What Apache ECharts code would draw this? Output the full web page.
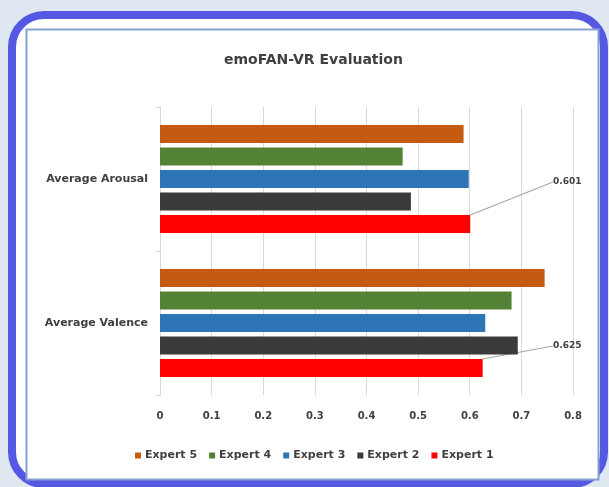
<!DOCTYPE html>
<html>
<head>
<meta charset="utf-8">
<script src="https://cdn.jsdelivr.net/npm/echarts@6/dist/echarts.min.js"></script>
<style>
html,body{margin:0;padding:0;background:#dfe7f1;}
#c{width:609px;height:487px;}
</style>
</head>
<body>
<div id="c"></div>
<script>
const categories = ['Average Arousal', 'Average Valence'];
const seriesNames = ['Expert 1', 'Expert 2', 'Expert 3', 'Expert 4', 'Expert 5'];
const expert1 = [0.601, 0.625];
const expert2 = [0.486, 0.693];
const expert3 = [0.598, 0.630];
const expert4 = [0.470, 0.681];
const expert5 = [0.588, 0.745];
const xTicks = [0, 0.1, 0.2, 0.3, 0.4, 0.5, 0.6, 0.7, 0.8];
const colors = ['#ff0000', '#3a3a3a', '#2e75b6', '#548235', '#c55a11'];
const legendOrder = ['Expert 5', 'Expert 4', 'Expert 3', 'Expert 2', 'Expert 1'];
const values = [expert1, expert2, expert3, expert4, expert5];

const FONT = '"DejaVu Sans", "Liberation Sans", sans-serif';
const chart = echarts.init(document.getElementById('c'), null, {renderer: 'canvas'});

const series = [];
for (let i = seriesNames.length - 1; i >= 0; i--) {
  const s = {
    name: seriesNames[i],
    type: 'bar',
    data: values[i],
    barGap: '25%',
    barCategoryGap: '25%',
    itemStyle: {color: colors[i]},
    silent: true
  };
  if (i === 0) {
    s.label = {
      show: true,
      position: 'right',
      formatter: p => p.value.toFixed(3),
      fontFamily: FONT, fontWeight: 'bold', fontSize: 9, color: '#404040',
      padding: [0, 0, 0, 6]
    };
    s.labelLine = {show: true, lineStyle: {color: '#a6a6a6', width: 1.2}};
    s.labelLayout = function (p) {
      return {
        x: 547,
        y: p.rect.y + p.rect.height / 2 - (p.dataIndex === 0 ? 42 : 22),
        align: 'left',
        verticalAlign: 'middle'
      };
    };
  }
  series.push(s);
}

chart.setOption({
  backgroundColor: '#dfe7f1',
  animation: false,
  color: colors,
  graphic: [
    {type: 'rect', z: -10, shape: {x: 12, y: 15, width: 592, height: 469, r: 32},
     style: {fill: '#ffffff', stroke: '#5558e2', lineWidth: 8}},
    {type: 'rect', z: -9, shape: {x: 26.5, y: 29.5, width: 572, height: 450},
     style: {fill: '#ffffff', stroke: '#86a2d4', lineWidth: 2}}
  ],
  title: {
    text: 'emoFAN-VR Evaluation',
    left: 219, top: 48,
    textStyle: {fontFamily: FONT, fontWeight: 'bold', fontSize: 14, color: '#404040'}
  },
  legend: {
    data: legendOrder,
    bottom: 21,
    left: 130,
    icon: 'rect',
    itemWidth: 6, itemHeight: 6, itemGap: 12,
    textStyle: {fontFamily: FONT, fontWeight: 'bold', fontSize: 11, color: '#404040', padding: [0, 0, 0, -1]}
  },
  grid: {left: 160, right: 36, top: 107, bottom: 92, containLabel: false},
  xAxis: {
    type: 'value', min: 0, max: 0.8, interval: 0.1,
    axisLine: {show: false}, axisTick: {show: false},
    splitLine: {show: true, lineStyle: {color: '#d9d9d9'}},
    axisLabel: {
      margin: 16, fontFamily: FONT, fontWeight: 'bold', fontSize: 10, color: '#404040',
      formatter: v => { const t = xTicks.find(x => Math.abs(x - v) < 1e-9); return t === undefined ? '' : String(t); }
    }
  },
  yAxis: {
    type: 'category', data: categories, inverse: true,
    axisLine: {show: true, lineStyle: {color: '#d9d9d9'}},
    axisTick: {show: true, length: 4, lineStyle: {color: '#d9d9d9'}},
    axisLabel: {margin: 12, fontFamily: FONT, fontWeight: 'bold', fontSize: 11, color: '#404040'}
  },
  series: series
});
</script>
</body>
</html>
